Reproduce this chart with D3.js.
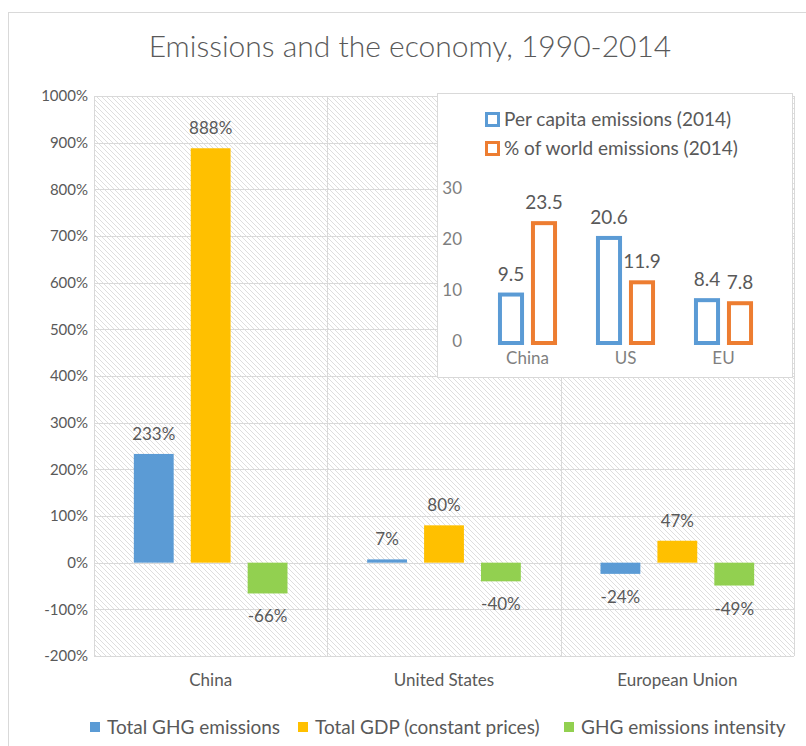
<!DOCTYPE html>
<html><head><meta charset="utf-8">
<script src="https://cdn.jsdelivr.net/npm/d3@7"></script>
<style>body{margin:0;background:#fff}svg{display:block}</style>
</head><body>
<script>
const categories = ["China", "United States", "European Union"];
const seriesNames = ["Total GHG emissions", "Total GDP (constant prices)", "GHG emissions intensity"];
const ghgEmissions = [233, 7, -24];
const gdp = [888, 80, 47];
const ghgIntensity = [-66, -40, -49];
const yTicks = [-200, -100, 0, 100, 200, 300, 400, 500, 600, 700, 800, 900, 1000];

const insetCategories = ["China", "US", "EU"];
const insetSeriesNames = ["Per capita emissions (2014)", "% of world emissions (2014)"];
const perCapita = [9.5, 20.6, 8.4];
const worldShare = [23.5, 11.9, 7.8];
const insetTicks = [0, 10, 20, 30];

const W = 806, H = 746;
const font = "Lato, 'Open Sans', sans-serif";
const textCol = "#595959";
const colors = ["#5B9BD5", "#FFC000", "#92D050"];
const insetColors = ["#5B9BD5", "#ED7D31"];

const svg = d3.select("body").append("svg").attr("width", W).attr("height", H);
const defs = svg.append("defs");
const pat = defs.append("pattern").attr("id", "hatch").attr("patternUnits", "userSpaceOnUse")
  .attr("width", 5).attr("height", 5);
pat.append("rect").attr("width", 5).attr("height", 5).attr("fill", "#fff");
pat.append("path").attr("d", "M0,0 L5,5 M-1,4 L1,6 M4,-1 L6,1")
  .attr("stroke", "#dedede").attr("stroke-width", 1);

// outer chart border
svg.append("rect").attr("x", 8.5).attr("y", 12.5).attr("width", W).attr("height", H)
  .attr("fill", "#fff").attr("stroke", "#d9d9d9");

// title
svg.append("text").attr("x", 410).attr("y", 57).attr("text-anchor", "middle")
  .attr("font-family", font).attr("font-weight", 300).attr("font-size", 30).attr("fill", textCol)
  .text("Emissions and the economy, 1990-2014");

const pl = 94, pr = 794, pt = 96, pb = 656;
const x0 = d3.scaleBand().domain(categories).range([pl, pr]);
const x1 = d3.scaleBand().domain(seriesNames).range([0, x0.bandwidth()]).paddingInner(0.3).paddingOuter(0.7);
const y = d3.scaleLinear().domain([-200, 1000]).range([pb, pt]);

const g = svg.append("g");
g.append("rect").attr("x", pl).attr("y", pt).attr("width", pr - pl).attr("height", pb - pt).attr("fill", "url(#hatch)");
// gridlines
g.selectAll(".hg").data(yTicks).join("line")
  .attr("x1", pl).attr("x2", pr).attr("y1", d => Math.round(y(d)) + 0.5).attr("y2", d => Math.round(y(d)) + 0.5)
  .attr("stroke", "#d9d9d9").attr("stroke-width", 1);
const vlines = categories.map(c => x0(c)).concat([pr]);
g.selectAll(".vg").data(vlines).join("line")
  .attr("x1", d => Math.round(d) + 0.5).attr("x2", d => Math.round(d) + 0.5).attr("y1", pt).attr("y2", pb)
  .attr("stroke", "#d9d9d9").attr("stroke-width", 1);

// y axis labels
const yAxis = d3.axisLeft(y).tickValues(yTicks).tickFormat(d => d + "%").tickSize(0).tickPadding(6);
const ya = svg.append("g").attr("transform", `translate(${pl},0)`).call(yAxis);
ya.select(".domain").remove();
ya.selectAll("text").attr("font-family", font).attr("font-size", 15).attr("fill", textCol);

// x axis labels
const xAxis = d3.axisBottom(x0).tickSize(0).tickPadding(18);
const xa = svg.append("g").attr("transform", `translate(0,${pb})`).call(xAxis);
xa.select(".domain").remove();
xa.selectAll("text").attr("font-family", font).attr("font-size", 17).attr("fill", textCol);

const allSeries = [ghgEmissions, gdp, ghgIntensity];
const rows = [];
categories.forEach((c, i) => seriesNames.forEach((s, j) => rows.push({c, s, j, v: allSeries[j][i]})));

g.selectAll(".bar").data(rows).join("rect")
  .attr("x", d => x0(d.c) + x1(d.s)).attr("width", x1.bandwidth())
  .attr("y", d => y(Math.max(0, d.v))).attr("height", d => Math.abs(y(d.v) - y(0)))
  .attr("fill", d => colors[d.j]);
g.selectAll(".lbl").data(rows).join("text")
  .attr("x", d => x0(d.c) + x1(d.s) + x1.bandwidth() / 2)
  .attr("y", d => d.v >= 0 ? y(d.v) - 14 : y(d.v) + 29)
  .attr("text-anchor", "middle").attr("font-family", font).attr("font-size", 17).attr("fill", textCol)
  .text(d => d.v + "%");

// legend
const legX = [90, 298, 564];
const lg = svg.append("g");
seriesNames.forEach((s, j) => {
  lg.append("rect").attr("x", legX[j]).attr("y", 722).attr("width", 10).attr("height", 10).attr("fill", colors[j]);
  lg.append("text").attr("x", legX[j] + 17).attr("y", 734).attr("font-family", font).attr("font-size", 19)
    .attr("fill", textCol).text(s);
});

// inset
const ig = svg.append("g");
ig.append("rect").attr("x", 437.5).attr("y", 93.5).attr("width", 355).attr("height", 284)
  .attr("fill", "#fff").attr("stroke", "#d9d9d9");
const ix0 = d3.scaleBand().domain(insetCategories).range([478.5, 772.5]);
const ix1 = d3.scaleBand().domain(insetSeriesNames).range([0, ix0.bandwidth()]).paddingInner(0.21).paddingOuter(0.59);
const iy = d3.scaleLinear().domain([0, 30]).range([341, 188]);
const iya = ig.append("g").attr("transform", "translate(468,0)")
  .call(d3.axisLeft(iy).tickValues(insetTicks).tickSize(0).tickPadding(6));
iya.select(".domain").remove();
iya.selectAll("text").attr("font-family", font).attr("font-size", 17).attr("fill", "#7f7f7f");
const ixa = ig.append("g").attr("transform", "translate(0,346)")
  .call(d3.axisBottom(ix0).tickSize(0).tickPadding(6));
ixa.select(".domain").remove();
ixa.selectAll("text").attr("font-family", font).attr("font-size", 17).attr("fill", "#7f7f7f");

const insetSeries = [perCapita, worldShare];
const irows = [];
insetCategories.forEach((c, i) => insetSeriesNames.forEach((s, j) => irows.push({c, s, j, v: insetSeries[j][i]})));
ig.selectAll(".ibar").data(irows).join("rect")
  .attr("x", d => ix0(d.c) + ix1(d.s) + 2).attr("width", ix1.bandwidth() - 4)
  .attr("y", d => iy(d.v) + 2).attr("height", d => iy(0) - iy(d.v))
  .attr("fill", "#fff").attr("stroke", d => insetColors[d.j]).attr("stroke-width", 4);
ig.selectAll(".ilbl").data(irows).join("text")
  .attr("x", d => ix0(d.c) + ix1(d.s) + ix1.bandwidth() / 2)
  .attr("y", d => iy(d.v) - 12)
  .attr("text-anchor", "middle").attr("font-family", font).attr("font-size", 19).attr("fill", textCol)
  .text(d => d.v.toFixed(1));
insetSeriesNames.forEach((s, j) => {
  const yy = 113 + j * 29;
  ig.append("rect").attr("x", 486.5).attr("y", yy + 0.5).attr("width", 12).attr("height", 12)
    .attr("fill", "#fff").attr("stroke", insetColors[j]).attr("stroke-width", 3);
  ig.append("text").attr("x", 504).attr("y", yy + 13).attr("font-family", font).attr("font-size", 19)
    .attr("fill", textCol).text(s);
});
</script>
</body></html>
